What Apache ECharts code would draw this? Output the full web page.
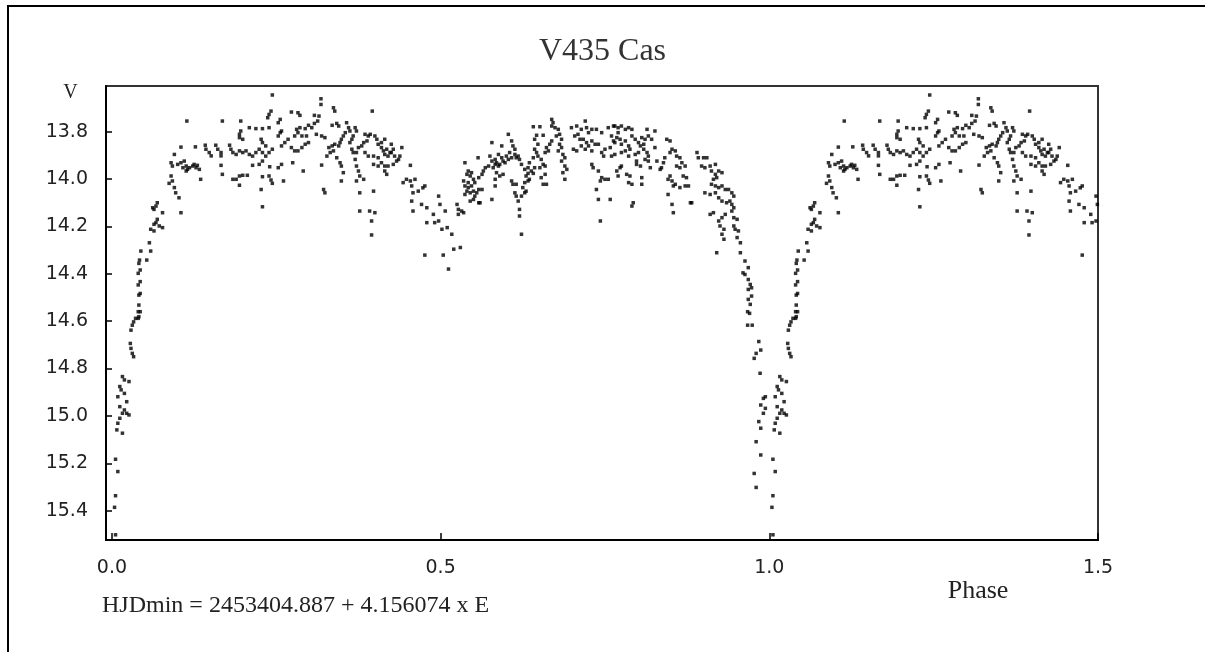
<!DOCTYPE html>
<html>
<head>
<meta charset="utf-8">
<title>V435 Cas</title>
<script src="https://cdn.jsdelivr.net/npm/echarts@6/dist/echarts.min.js"></script>
<style>
  html, body { margin: 0; padding: 0; background: #fff; }
  #lightcurve { width: 1205px; height: 652px; }
</style>
</head>
<body>
<div id="lightcurve"></div>
<script>
// V435 Cas, phased V light curve: [phase, V]
var riseI = [
  [0.0055, 15.502], [0.004, 15.386], [0.0055, 15.337], [0.009, 15.235], [0.0055, 15.183],
  [0.016, 15.073], [0.0075, 15.059], [0.009, 15.031], [0.012, 15.010], [0.026, 14.996], [0.0225, 14.989],
  [0.016, 14.989], [0.019, 14.975], [0.012, 14.961], [0.0225, 14.940], [0.009, 14.919], [0.019, 14.905],
  [0.014, 14.890], [0.012, 14.876], [0.026, 14.855], [0.019, 14.848], [0.016, 14.834],
  [0.033, 14.750], [0.031, 14.736], [0.029, 14.715], [0.028, 14.694], [0.029, 14.638], [0.031, 14.617],
  [0.033, 14.603], [0.040, 14.588], [0.036, 14.588], [0.041, 14.581], [0.040, 14.560], [0.043, 14.560],
  [0.041, 14.532], [0.041, 14.490], [0.043, 14.483], [0.040, 14.447], [0.043, 14.433], [0.040, 14.398],
  [0.043, 14.384], [0.041, 14.356],
  [0.042, 14.342], [0.053, 14.342], [0.044, 14.304], [0.059, 14.304], [0.057, 14.269], [0.059, 14.212],
  [0.064, 14.219], [0.064, 14.191], [0.067, 14.184], [0.069, 14.170], [0.072, 14.198], [0.077, 14.205],
  [0.077, 14.142], [0.064, 14.128], [0.062, 14.121], [0.067, 14.114], [0.069, 14.100],
  [0.105, 14.142], [0.102, 14.079], [0.097, 14.058], [0.095, 14.036], [0.087, 14.018], [0.092, 14.008],
  [0.090, 13.987]
]

var maxI = [
  [0.105, 13.865], [0.095, 13.896], [0.090, 13.931], [0.092, 13.945], [0.100, 13.938], [0.105, 13.931],
  [0.110, 13.924], [0.113, 13.945], [0.118, 13.952], [0.115, 13.959], [0.123, 13.945], [0.125, 13.938],
  [0.128, 13.952], [0.130, 13.942], [0.133, 13.959], [0.108, 13.952], [0.113, 13.966], [0.135, 14.001],
  [0.114, 13.755], [0.127, 13.864], [0.142, 13.857], [0.143, 13.874], [0.148, 13.888], [0.151, 13.902],
  [0.158, 13.857], [0.161, 13.874], [0.166, 13.888], [0.166, 13.902], [0.168, 13.755], [0.166, 13.942],
  [0.168, 13.980],
  [0.179, 13.857], [0.181, 13.874], [0.184, 13.888], [0.189, 13.896], [0.194, 13.881], [0.199, 13.888],
  [0.204, 13.881], [0.209, 13.896], [0.214, 13.903], [0.219, 13.888], [0.224, 13.874], [0.229, 13.888],
  [0.234, 13.903], [0.239, 13.888], [0.244, 13.874],
  [0.184, 14.001], [0.189, 14.001], [0.194, 13.987], [0.199, 13.984], [0.206, 13.984], [0.194, 14.026],
  [0.214, 13.942], [0.229, 13.924], [0.224, 13.938], [0.229, 13.990], [0.227, 14.044], [0.229, 14.117],
  [0.240, 13.948], [0.239, 13.987], [0.242, 14.004], [0.244, 14.018],
  [0.196, 13.755], [0.209, 13.783], [0.219, 13.787], [0.229, 13.787], [0.239, 13.783], [0.196, 13.797],
  [0.194, 13.811], [0.194, 13.825], [0.199, 13.832], [0.227, 13.832], [0.229, 13.846], [0.234, 13.860],
  [0.244, 13.645], [0.242, 13.713], [0.239, 13.727], [0.237, 13.741],
  [0.318, 13.661], [0.318, 13.685], [0.337, 13.699], [0.339, 13.713], [0.396, 13.713], [0.273, 13.717],
  [0.283, 13.720], [0.286, 13.731], [0.256, 13.748], [0.253, 13.762],
  [0.308, 13.731], [0.315, 13.734], [0.313, 13.755], [0.308, 13.765], [0.299, 13.773], [0.304, 13.783],
  [0.294, 13.787], [0.286, 13.783], [0.281, 13.790], [0.283, 13.804], [0.278, 13.818], [0.289, 13.818],
  [0.296, 13.818], [0.299, 13.846], [0.294, 13.853], [0.289, 13.867], [0.283, 13.881], [0.278, 13.881],
  [0.273, 13.867], [0.268, 13.832], [0.263, 13.846], [0.258, 13.860], [0.258, 13.797], [0.256, 13.804],
  [0.253, 13.818],
  [0.324, 13.825], [0.319, 13.818], [0.311, 13.811], [0.342, 13.765], [0.345, 13.776], [0.335, 13.773],
  [0.357, 13.762], [0.360, 13.783], [0.362, 13.797], [0.355, 13.804], [0.352, 13.818], [0.349, 13.832],
  [0.347, 13.846], [0.345, 13.860], [0.339, 13.853], [0.335, 13.860], [0.330, 13.867], [0.332, 13.888],
  [0.337, 13.881], [0.327, 13.903],
  [0.370, 13.783], [0.372, 13.797], [0.367, 13.818], [0.365, 13.832], [0.362, 13.846], [0.365, 13.874],
  [0.367, 13.888], [0.372, 13.888], [0.375, 13.867], [0.380, 13.860], [0.383, 13.846], [0.388, 13.839],
  [0.390, 13.818], [0.385, 13.811], [0.393, 13.811], [0.400, 13.818], [0.403, 13.832], [0.405, 13.853],
  [0.410, 13.867], [0.413, 13.881], [0.415, 13.896], [0.420, 13.903], [0.423, 13.888], [0.418, 13.874],
  [0.410, 13.846], [0.415, 13.832], [0.425, 13.853], [0.428, 13.874], [0.425, 13.888], [0.430, 13.903],
  [0.436, 13.917], [0.438, 13.903], [0.441, 13.867], [0.385, 13.888], [0.390, 13.903], [0.398, 13.903],
  [0.405, 13.910], [0.410, 13.931], [0.415, 13.945], [0.420, 13.945], [0.428, 13.938], [0.433, 13.924],
  [0.258, 13.938], [0.253, 13.952], [0.261, 14.008], [0.291, 13.966], [0.275, 13.931], [0.319, 13.941],
  [0.322, 14.044], [0.324, 14.058], [0.342, 13.910], [0.347, 13.931], [0.349, 13.945], [0.352, 13.973],
  [0.349, 14.008], [0.370, 13.917], [0.372, 13.945], [0.375, 13.966], [0.377, 13.987], [0.383, 14.001],
  [0.372, 14.008], [0.377, 14.058], [0.398, 14.051], [0.377, 14.135], [0.392, 14.135], [0.400, 14.142],
  [0.395, 14.177], [0.395, 14.236], [0.398, 13.938], [0.405, 13.945], [0.415, 13.966], [0.418, 13.980]
]

var minII = [
  [0.454, 13.942], [0.443, 14.015], [0.448, 14.001], [0.454, 14.008], [0.461, 14.001], [0.456, 14.029],
  [0.458, 14.058], [0.466, 14.051], [0.473, 14.037], [0.476, 14.029], [0.456, 14.093], [0.458, 14.135],
  [0.471, 14.107], [0.479, 14.121], [0.489, 14.149], [0.497, 14.072], [0.499, 14.107], [0.491, 14.184],
  [0.497, 14.177], [0.502, 14.212], [0.507, 14.135], [0.479, 14.184], [0.476, 14.321], [0.504, 14.321],
  [0.512, 14.380], [0.510, 14.205], [0.517, 14.233], [0.520, 14.296], [0.530, 14.289], [0.525, 14.107],
  [0.527, 14.128], [0.532, 14.135], [0.527, 14.149], [0.535, 14.142]
]

var maxII = [
  [0.669, 13.748], [0.671, 13.762], [0.669, 13.776], [0.674, 13.783], [0.679, 13.790], [0.681, 13.811],
  [0.676, 13.818], [0.684, 13.832], [0.681, 13.853], [0.684, 13.867], [0.679, 13.881], [0.686, 13.896],
  [0.689, 13.910], [0.684, 13.924], [0.689, 13.945], [0.692, 13.959], [0.686, 13.973], [0.689, 14.001],
  [0.641, 13.779], [0.651, 13.779], [0.646, 13.815], [0.656, 13.815], [0.643, 13.832], [0.648, 13.853],
  [0.643, 13.874], [0.646, 13.888], [0.641, 13.910], [0.648, 13.903], [0.653, 13.917], [0.656, 13.938],
  [0.651, 13.952], [0.659, 13.945], [0.643, 13.952], [0.635, 13.931], [0.633, 13.952], [0.638, 13.966],
  [0.641, 13.976], [0.633, 13.976], [0.659, 13.888], [0.661, 13.867], [0.666, 13.853], [0.669, 13.839],
  [0.664, 13.881], [0.659, 13.980], [0.661, 14.022], [0.656, 14.022], [0.653, 13.994],
  [0.699, 13.783], [0.707, 13.776], [0.714, 13.790], [0.720, 13.755], [0.722, 13.783], [0.725, 13.804],
  [0.730, 13.790], [0.737, 13.790], [0.709, 13.811], [0.704, 13.818], [0.712, 13.832], [0.717, 13.832],
  [0.722, 13.846], [0.725, 13.860], [0.730, 13.839], [0.735, 13.853], [0.740, 13.853], [0.730, 13.881],
  [0.720, 13.874], [0.714, 13.860], [0.707, 13.881], [0.702, 13.874], [0.745, 13.804], [0.755, 13.783],
  [0.763, 13.776], [0.760, 13.818], [0.763, 13.839], [0.758, 13.867], [0.750, 13.874], [0.745, 13.888],
  [0.748, 13.903], [0.760, 13.903], [0.765, 13.896],
  [0.730, 13.938], [0.732, 13.952], [0.740, 13.966], [0.745, 13.994], [0.750, 14.001], [0.755, 14.001],
  [0.743, 14.008], [0.737, 14.044], [0.740, 14.086], [0.758, 14.086], [0.743, 14.177],
  [0.603, 13.811], [0.608, 13.839], [0.610, 13.860], [0.613, 13.874], [0.605, 13.888], [0.600, 13.903],
  [0.598, 13.931], [0.603, 13.917], [0.608, 13.910], [0.613, 13.896], [0.615, 13.910], [0.618, 13.903],
  [0.620, 13.917], [0.623, 13.938], [0.628, 13.959], [0.630, 13.987], [0.633, 14.008], [0.635, 14.001],
  [0.628, 14.015], [0.625, 14.036], [0.628, 14.058], [0.630, 14.051], [0.623, 14.072], [0.618, 14.093],
  [0.620, 14.128], [0.620, 14.156], [0.623, 14.233], [0.615, 14.022], [0.610, 14.022], [0.608, 14.008],
  [0.613, 14.058], [0.615, 14.072],
  [0.593, 13.860], [0.578, 13.846], [0.575, 13.903], [0.578, 13.924], [0.583, 13.917], [0.585, 13.931],
  [0.588, 13.945], [0.590, 13.938], [0.595, 13.924], [0.593, 13.910], [0.588, 13.896], [0.583, 13.938],
  [0.580, 13.952], [0.585, 13.973], [0.595, 13.980], [0.590, 13.987], [0.583, 14.001], [0.583, 14.029],
  [0.578, 14.086], [0.573, 13.945], [0.568, 13.952], [0.565, 13.966], [0.563, 13.980], [0.558, 13.994],
  [0.557, 13.910],
  [0.537, 13.931], [0.542, 13.966], [0.540, 13.980], [0.545, 13.987], [0.547, 13.973], [0.550, 14.001],
  [0.552, 14.015], [0.547, 14.029], [0.542, 14.036], [0.540, 14.051], [0.537, 14.065], [0.545, 14.058],
  [0.550, 14.051], [0.555, 14.058], [0.558, 14.044], [0.552, 14.072], [0.550, 14.086], [0.545, 14.093],
  [0.558, 14.100], [0.560, 14.100], [0.563, 14.044], [0.537, 14.029], [0.535, 14.008], [0.542, 14.015],
  [0.765, 13.776], [0.770, 13.783], [0.775, 13.776], [0.781, 13.790], [0.786, 13.783], [0.791, 13.790],
  [0.770, 13.804], [0.768, 13.825], [0.773, 13.832], [0.765, 13.846], [0.775, 13.853], [0.781, 13.839],
  [0.786, 13.860], [0.788, 13.874], [0.781, 13.881], [0.775, 13.888], [0.791, 13.818], [0.796, 13.832],
  [0.801, 13.846], [0.804, 13.860], [0.809, 13.853], [0.811, 13.832], [0.806, 13.825], [0.816, 13.818],
  [0.821, 13.832], [0.814, 13.790], [0.826, 13.797], [0.809, 13.874], [0.814, 13.888], [0.816, 13.903],
  [0.811, 13.917], [0.816, 13.924], [0.819, 13.952], [0.801, 13.888], [0.796, 13.896], [0.786, 13.903],
  [0.775, 13.945], [0.773, 13.952], [0.768, 13.966], [0.770, 13.987], [0.783, 13.980], [0.788, 13.987],
  [0.786, 14.015], [0.791, 14.022], [0.806, 14.022], [0.806, 13.994], [0.804, 13.945], [0.798, 13.938],
  [0.798, 13.924], [0.793, 14.100], [0.791, 14.114],
  [0.826, 13.867], [0.829, 13.924], [0.844, 13.832], [0.849, 13.839], [0.852, 13.874], [0.857, 13.881],
  [0.859, 13.903], [0.864, 13.910], [0.867, 13.931], [0.872, 13.945], [0.864, 13.952], [0.859, 13.945],
  [0.849, 13.888], [0.841, 13.910], [0.839, 13.931], [0.836, 13.952], [0.834, 13.959], [0.846, 14.001],
  [0.852, 14.008], [0.857, 14.022], [0.854, 14.029], [0.864, 14.036], [0.872, 14.029], [0.869, 13.987],
  [0.874, 13.994], [0.877, 14.029], [0.849, 13.987], [0.846, 14.065], [0.852, 14.107], [0.854, 14.142],
  [0.880, 14.100], [0.882, 14.100]
]

var fallI = [
  [0.890, 13.888], [0.892, 13.910], [0.900, 13.910], [0.905, 13.910], [0.897, 13.945], [0.902, 13.952],
  [0.910, 13.945], [0.918, 13.938], [0.912, 13.966], [0.918, 13.980], [0.923, 13.966], [0.928, 13.973],
  [0.920, 13.994], [0.915, 14.001], [0.912, 14.022], [0.918, 14.029], [0.923, 14.036], [0.928, 14.029],
  [0.933, 14.044], [0.938, 14.044], [0.943, 14.058], [0.946, 14.072], [0.918, 14.058], [0.910, 14.065],
  [0.902, 14.058], [0.923, 14.079], [0.928, 14.093], [0.935, 14.100], [0.940, 14.093], [0.943, 14.107],
  [0.946, 14.121], [0.943, 14.135], [0.946, 14.163], [0.951, 14.170], [0.933, 14.149], [0.928, 14.163],
  [0.923, 14.177], [0.925, 14.198], [0.931, 14.212], [0.928, 14.233], [0.931, 14.254], [0.915, 14.142],
  [0.910, 14.149], [0.946, 14.198], [0.948, 14.212], [0.953, 14.219], [0.951, 14.247], [0.956, 14.269],
  [0.920, 14.311], [0.956, 14.311], [0.963, 14.346], [0.968, 14.374], [0.960, 14.396], [0.963, 14.403],
  [0.968, 14.424], [0.971, 14.445], [0.973, 14.459], [0.968, 14.466], [0.973, 14.494], [0.968, 14.508],
  [0.971, 14.529],
  [0.967, 14.560], [0.970, 14.567], [0.974, 14.617], [0.967, 14.617], [0.984, 14.686], [0.987, 14.722],
  [0.980, 14.736], [0.977, 14.757], [0.986, 14.820], [0.994, 14.919], [0.991, 14.926], [0.987, 14.954],
  [0.994, 14.968], [0.991, 14.989], [0.984, 15.024], [0.987, 15.052], [0.980, 15.109], [0.987, 15.165],
  [0.977, 15.243], [0.980, 15.302]
]

var xTicks = [0, 0.5, 1.0, 1.5]
var yTicks = [13.8, 14.0, 14.2, 14.4, 14.6, 14.8, 15.0, 15.2, 15.4]

// the plot shows 1.5 cycles: phases 0 - 0.5 are repeated at phase + 1
var points = [].concat(riseI, maxI, minII, maxII, fallI)
var repeated = points.filter(function (p) { return p[0] <= 0.5 }).map(function (p) { return [p[0] + 1, p[1]] })
var allPoints = points.concat(repeated)

var serif = 'Liberation Serif, Times New Roman, serif'
var sans = 'DejaVu Sans, sans-serif'

var myChart = echarts.init(document.getElementById('lightcurve'))
myChart.setOption({
  animation: false,
  backgroundColor: '#fff',
  title: {
    text: 'V435 Cas',
    left: 'center',
    top: 31,
    textStyle: { fontFamily: serif, fontSize: 32, fontWeight: 'normal', color: '#333' }
  },
  grid: {
    left: 106,
    right: 107,
    top: 86,
    bottom: 112,
    show: true,
    borderColor: '#333',
    borderWidth: 2,
    containLabel: false,
    outerBoundsMode: 'none'
  },
  xAxis: {
    type: 'value',
    min: -0.009,
    max: 1.5,
    splitLine: { show: false },
    axisLine: { onZero: false, lineStyle: { color: '#000', width: 2 } },
    axisTick: { inside: true, length: 7, customValues: xTicks, lineStyle: { color: '#000', width: 1.5 } },
    axisLabel: {
      customValues: xTicks,
      margin: 19,
      fontFamily: sans,
      fontSize: 19,
      color: '#222',
      formatter: function (v) { return v.toFixed(1) }
    }
  },
  yAxis: {
    type: 'value',
    inverse: true,
    min: 13.607,
    max: 15.524,
    splitLine: { show: false },
    axisLine: { onZero: false, lineStyle: { color: '#000', width: 2 } },
    axisTick: { inside: true, length: 6, customValues: yTicks, lineStyle: { color: '#000', width: 1.5 } },
    axisLabel: {
      customValues: yTicks,
      margin: 18,
      fontFamily: sans,
      fontSize: 19,
      color: '#222',
      formatter: function (v) { return v.toFixed(1) }
    }
  },
  graphic: [
    {
      type: 'rect',
      shape: { x: 8, y: 6, width: 1400, height: 900 },
      style: { fill: 'none', stroke: '#000', lineWidth: 2 },
      silent: true
    },
    {
      type: 'text',
      x: 70.5, y: 93,
      style: { text: 'V', font: '20px ' + serif, fill: '#222', textAlign: 'center', textVerticalAlign: 'middle' }
    },
    {
      type: 'text',
      x: 978, y: 591,
      style: { text: 'Phase', font: '26px ' + serif, fill: '#222', textAlign: 'center', textVerticalAlign: 'middle' }
    },
    {
      type: 'text',
      x: 102, y: 606,
      style: { text: 'HJDmin = 2453404.887 + 4.156074 x E', font: '24px ' + serif, fill: '#222', textAlign: 'left', textVerticalAlign: 'middle' }
    }
  ],
  series: [
    {
      type: 'scatter',
      data: allPoints,
      symbol: 'rect',
      symbolSize: 3.5,
      itemStyle: { color: '#000' },
      silent: true
    }
  ]
})
</script>
</body>
</html>
